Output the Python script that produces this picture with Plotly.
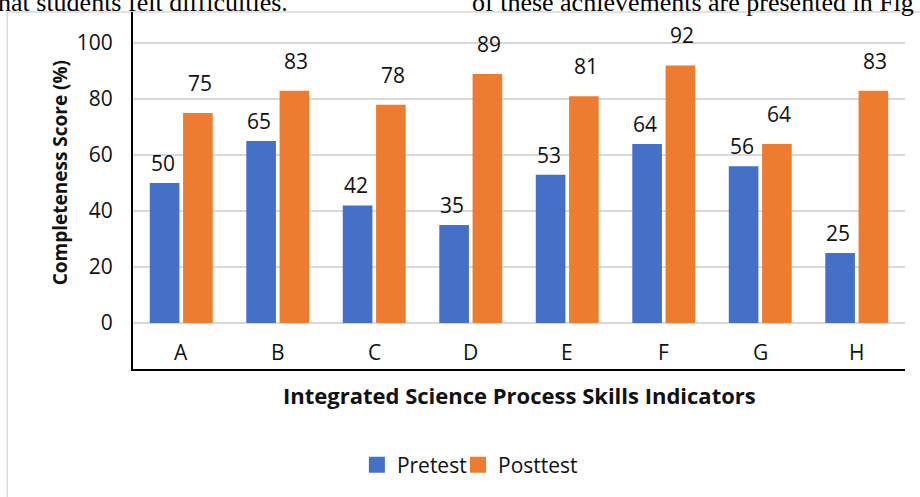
import plotly.graph_objects as go

categories = ["A", "B", "C", "D", "E", "F", "G", "H"]
pretest = [50, 65, 42, 35, 53, 64, 56, 25]
posttest = [75, 83, 78, 89, 81, 92, 64, 83]
y_ticks = [0, 20, 40, 60, 80, 100]
series_names = ["Pretest", "Posttest"]

BLUE = "#4470C8"
ORANGE = "#EE7C30"
FONT = "Open Sans"
TXT = "#111111"

fig = go.Figure()
fig.add_bar(name=series_names[0], x=categories, y=pretest, showlegend=False,
            marker=dict(color=BLUE, line=dict(width=0)))
fig.add_bar(name=series_names[1], x=categories, y=posttest, showlegend=False,
            marker=dict(color=ORANGE, line=dict(width=0)))
# legend entries with larger square swatches (one legend box per series)
for name, col, lg in zip(series_names, (BLUE, ORANGE), ("legend", "legend2")):
    fig.add_scatter(x=[None], y=[None], mode="markers", name=name, legend=lg,
                    marker=dict(symbol="square", size=18, color=col))

annotations = []
n = len(categories)
for i, c in enumerate(categories):
    for val, off, shift in ((pretest[i], -0.19, 4), (posttest[i], 0.19, 14)):
        annotations.append(dict(x=i + off, y=val, xref="x", yref="y", text=str(val),
                                showarrow=False, yanchor="bottom", yshift=shift,
                                font=dict(family=FONT, size=21, color=TXT)))
    annotations.append(dict(x=i, y=-10.4, xref="x", yref="y", text=c, showarrow=False,
                            yanchor="middle", font=dict(family=FONT, size=21, color=TXT)))

annotations.append(dict(x=0.5, y=-0.073, xref="paper", yref="paper",
                        text="<b>Integrated Science Process Skills Indicators</b>",
                        showarrow=False, xanchor="center", yanchor="middle",
                        font=dict(family=FONT, size=22, color=TXT)))
annotations.append(dict(x=-0.095, y=0.55, xref="paper", yref="paper",
                        text="<b>Completeness Score (%)</b>", textangle=-90,
                        showarrow=False, xanchor="center", yanchor="middle",
                        font=dict(family=FONT, size=19, color=TXT)))
# clipped document text at top of the page
annotations.append(dict(x=0.2034, y=0.980, xref="paper", yref="paper",
                        text="hat students felt difficulties.", showarrow=False,
                        xanchor="right", yanchor="bottom",
                        font=dict(family="Liberation Serif", size=26, color="#000000")))
annotations.append(dict(x=0.4365, y=0.980, xref="paper", yref="paper",
                        text="of these achievements are presented in Fig", showarrow=False,
                        xanchor="left", yanchor="bottom",
                        font=dict(family="Liberation Serif", size=26, color="#000000")))

legend_style = dict(orientation="h", y=-0.269, xanchor="left", yanchor="middle",
                    font=dict(family=FONT, size=21, color=TXT), itemwidth=30,
                    bgcolor="rgba(0,0,0,0)")

fig.update_layout(
    width=920, height=497,
    margin=dict(l=133, r=15, t=12, b=128, autoexpand=False),
    paper_bgcolor="white", plot_bgcolor="white",
    barmode="group", bargap=0.31, bargroupgap=0.11,
    font=dict(family=FONT, size=21, color=TXT),
    showlegend=True,
    legend=dict(x=0.290, **legend_style),
    legend2=dict(x=0.421, **legend_style),
    annotations=annotations,
    shapes=[dict(type="rect", xref="paper", yref="paper",
                 x0=-0.163, x1=1.03, y0=-0.6, y1=1.0, layer="below",
                 line=dict(color="#D9D9D9", width=1.5))],
)
fig.update_xaxes(showticklabels=False, showline=True, linecolor="black", linewidth=2,
                 showgrid=False, ticks="", range=[-0.5, n - 0.5])
fig.update_yaxes(range=[-16.4, 111.1], tickvals=y_ticks, showgrid=True, gridcolor="#D9D9D9",
                 gridwidth=1.5, zeroline=False, showline=True, linecolor="black", linewidth=2,
                 ticks="", ticklabelstandoff=14, tickfont=dict(family=FONT, size=21, color=TXT))

fig.write_html("out.html", config={"displayModeBar": False},
               post_script="document.body.style.margin='0';")
